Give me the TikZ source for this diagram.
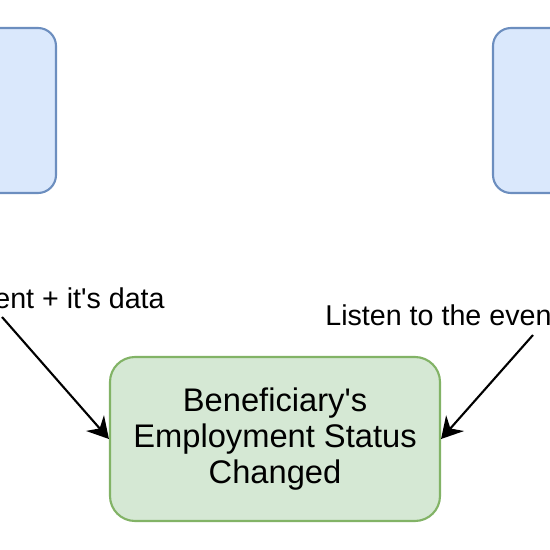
\documentclass[tikz,border=0pt]{standalone}
\usepackage{fontspec}
\setmainfont{Liberation Sans}
\usepackage{xcolor}
\usetikzlibrary{arrows.meta, calc}

\definecolor{svcfill}{HTML}{DAE8FC}
\definecolor{svcline}{HTML}{6C8EBF}
\definecolor{evfill}{HTML}{D5E8D4}
\definecolor{evline}{HTML}{82B366}

\begin{document}
\begin{tikzpicture}[>={Stealth[length=12pt, width=13.5pt, inset=4pt]},
  svcbox/.style={draw=svcline, fill=svcfill, line width=1.2pt, rounded corners=0.36cm,
    minimum width=4cm, minimum height=3.3cm},
  evbox/.style={draw=evline, fill=evfill, line width=1.2pt, rounded corners=0.5cm,
    minimum width=6.6cm, minimum height=3.28cm, align=center,
    font=\fontsize{18.6}{20.6}\selectfont},
  lbl/.style={inner sep=0pt, font=\fontsize{16.3}{19}\selectfont},
  flow/.style={->, line width=1.2pt}]
  \useasboundingbox (0,0) rectangle (11,11);
  \clip (0,0) rectangle (11,11);

  % services, only partly in view
  \node[svcbox] (svcL) at (-0.88,8.79) {};
  \node[svcbox] (svcR) at (11.86,8.79) {};

  % the event
  \node[evbox] (event) at (5.50,2.22)
    {Beneficiary\textquotesingle s\\Employment Status\\Changed};

  % labels
  \node[lbl, anchor=east] (pubLbl) at (3.30,5.04) {ent + it\textquotesingle s data};
  \node[lbl, anchor=west] (lisLbl) at (6.50,4.70) {Listen to the even};

  % publish / listen arrows
  \coordinate (pubStart) at (0.04,4.66);
  \coordinate (lisStart) at (10.66,4.30);
  \draw[flow] (pubStart) -- (event.west);
  \draw[flow] (lisStart) -- (event.east);
\end{tikzpicture}
\end{document}
